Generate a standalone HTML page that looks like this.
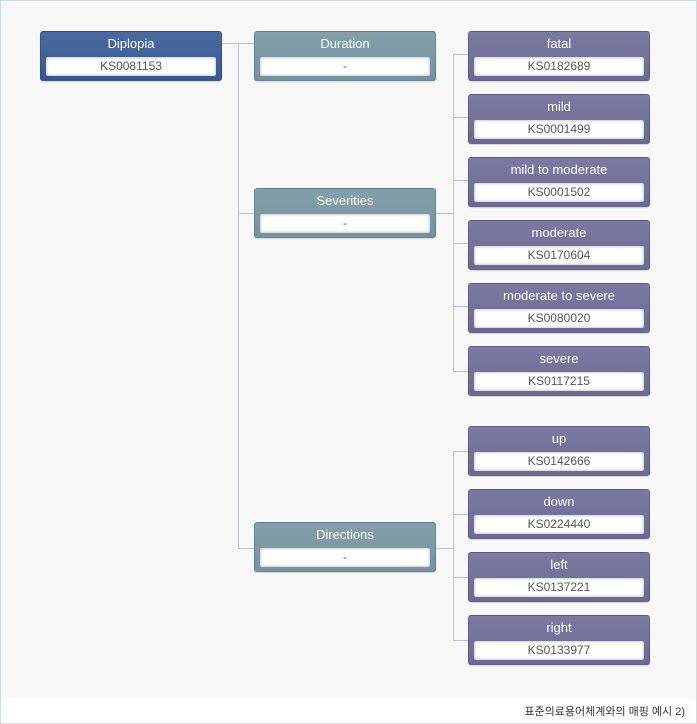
<!DOCTYPE html>
<html><head><meta charset="utf-8"><style>
*{margin:0;padding:0;box-sizing:border-box}
body{width:697px;height:724px;position:relative;background:#fff;font-family:"Liberation Sans","Noto Sans CJK KR",sans-serif;overflow:hidden}
.frame{position:absolute;left:0;top:0;width:697px;height:724px;border:1px solid #d3dce6}
.bg{position:absolute;left:1px;top:1px;width:695px;height:697px;background:#f8f8f8}
.n{position:absolute;width:182px;height:50px;border-radius:3px;border:1px solid rgba(0,0,0,.15);box-shadow:0 1px 1px rgba(0,0,0,.15)}
.n .t{position:absolute;left:0;right:0;top:4px;text-align:center;color:#fff;font-size:13px;line-height:16px}
.n .c{position:absolute;left:5px;right:5px;top:25px;height:19px;background:#fff;border-radius:2px;box-shadow:inset 0 0 3px rgba(0,0,0,.35);text-align:center;font-size:12px;line-height:19px;color:#555}
.b{background:linear-gradient(#4a6aa2,#3a5890)}
.g{background:linear-gradient(#83a0aa,#7592a0)}
.p{background:linear-gradient(#7a7aa2,#6a6a94)}
.l{position:absolute;background:#b8c2d2}
.cap{position:absolute;right:12px;top:703px;font-size:11px;color:#333}
</style></head><body>
<div class="frame"></div><div class="bg"></div>
<div class="l" style="left:222px;top:43px;width:33px;height:1px"></div>
<div class="l" style="left:238px;top:43px;width:1px;height:506px"></div>
<div class="l" style="left:238px;top:213px;width:17px;height:1px"></div>
<div class="l" style="left:238px;top:548px;width:17px;height:1px"></div>
<div class="l" style="left:436px;top:213px;width:17px;height:1px"></div>
<div class="l" style="left:453px;top:54px;width:1px;height:318px"></div>
<div class="l" style="left:436px;top:548px;width:17px;height:1px"></div>
<div class="l" style="left:453px;top:451px;width:1px;height:189px"></div>
<div class="l" style="left:453px;top:54px;width:16px;height:1px"></div>
<div class="l" style="left:453px;top:117px;width:16px;height:1px"></div>
<div class="l" style="left:453px;top:180px;width:16px;height:1px"></div>
<div class="l" style="left:453px;top:243px;width:16px;height:1px"></div>
<div class="l" style="left:453px;top:306px;width:16px;height:1px"></div>
<div class="l" style="left:453px;top:371px;width:16px;height:1px"></div>
<div class="l" style="left:453px;top:451px;width:16px;height:1px"></div>
<div class="l" style="left:453px;top:514px;width:16px;height:1px"></div>
<div class="l" style="left:453px;top:577px;width:16px;height:1px"></div>
<div class="l" style="left:453px;top:640px;width:16px;height:1px"></div>

<div class="n b" style="left:40px;top:31px"><div class="t">Diplopia</div><div class="c">KS0081153</div></div>
<div class="n g" style="left:254px;top:31px"><div class="t">Duration</div><div class="c">-</div></div>
<div class="n g" style="left:254px;top:188px"><div class="t">Severities</div><div class="c">-</div></div>
<div class="n g" style="left:254px;top:522px"><div class="t">Directions</div><div class="c">-</div></div>

<div class="n p" style="left:468px;top:31px"><div class="t">fatal</div><div class="c">KS0182689</div></div>
<div class="n p" style="left:468px;top:94px"><div class="t">mild</div><div class="c">KS0001499</div></div>
<div class="n p" style="left:468px;top:157px"><div class="t">mild to moderate</div><div class="c">KS0001502</div></div>
<div class="n p" style="left:468px;top:220px"><div class="t">moderate</div><div class="c">KS0170604</div></div>
<div class="n p" style="left:468px;top:283px"><div class="t">moderate to severe</div><div class="c">KS0080020</div></div>
<div class="n p" style="left:468px;top:346px"><div class="t">severe</div><div class="c">KS0117215</div></div>
<div class="n p" style="left:468px;top:426px"><div class="t">up</div><div class="c">KS0142666</div></div>
<div class="n p" style="left:468px;top:489px"><div class="t">down</div><div class="c">KS0224440</div></div>
<div class="n p" style="left:468px;top:552px"><div class="t">left</div><div class="c">KS0137221</div></div>
<div class="n p" style="left:468px;top:615px"><div class="t">right</div><div class="c">KS0133977</div></div>
<div class="cap">표준의료용어체계와의 매핑 예시 2)</div>
</body></html>
